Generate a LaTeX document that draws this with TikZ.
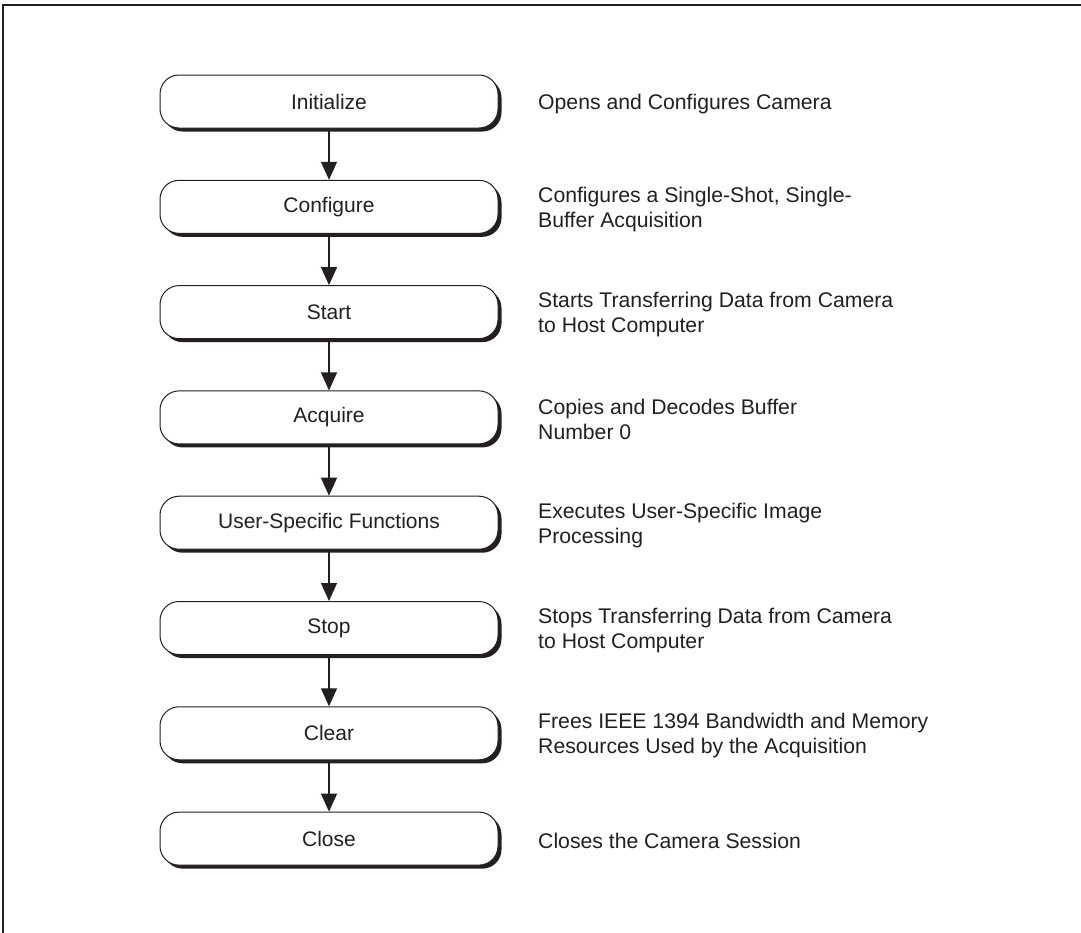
\documentclass[tikz,border=0pt]{standalone}
\usepackage{fontspec}
\setmainfont{Liberation Sans}
\usetikzlibrary{arrows.meta,shadows}
\definecolor{ink}{HTML}{231F20}
\begin{document}
\begin{tikzpicture}[x=1pt,y=-1pt,
  stepbox/.style={draw=ink, line width=1pt, fill=white, rounded corners=19pt,
    minimum width=338pt, minimum height=53pt, inner sep=0pt,
    font=\fontsize{21}{25}\selectfont, text=ink,
    drop shadow={shadow xshift=3.5pt, shadow yshift=-3.5pt, fill=ink, opacity=1}},
  desc/.style={anchor=west, align=left, inner sep=0pt, text=ink,
    font=\fontsize{21.2}{25}\selectfont},
  flow/.style={draw=ink, line width=1.3pt, -{Triangle[length=18pt,width=16pt]}}]
\useasboundingbox (0,0) rectangle (1081,932);
% frame
\draw[ink, line width=2pt] (3,933) -- (3,5) -- (1082,5);

% steps
\foreach \name/\lbl [count=\i from 0] in {
  ini/Initialize, cfg/Configure, sta/Start, acq/Acquire,
  usr/User-Specific Functions, stp/Stop, clr/Clear, cls/Close}{
  \node[stepbox] (\name) at (329,{101.5+105.3*\i}) {\lbl};
}

% descriptions
\node[desc] (dini) at (538,104) {Opens and Configures Camera};
\node[desc] (dcfg) at (538,{104+105.3}) {Configures a Single-Shot, Single-\\Buffer Acquisition};
\node[desc] (dsta) at (538,{104+2*105.3}) {Starts Transferring Data from Camera\\to Host Computer};
\node[desc] (dacq) at (538,{104+3*105.3}) {Copies and Decodes Buffer\\Number 0};
\node[desc] (dusr) at (538,{104+4*105.3}) {Executes User-Specific Image\\Processing};
\node[desc] (dstp) at (538,{104+5*105.3}) {Stops Transferring Data from Camera\\to Host Computer};
\node[desc] (dclr) at (538,{104+6*105.3}) {Frees IEEE 1394 Bandwidth and Memory\\Resources Used by the Acquisition};
\node[desc] (dcls) at (538,{104+7*105.3}) {Closes the Camera Session};

% connectors
\draw[flow] (ini) -- (cfg);
\draw[flow] (cfg) -- (sta);
\draw[flow] (sta) -- (acq);
\draw[flow] (acq) -- (usr);
\draw[flow] (usr) -- (stp);
\draw[flow] (stp) -- (clr);
\draw[flow] (clr) -- (cls);
\end{tikzpicture}
\end{document}
